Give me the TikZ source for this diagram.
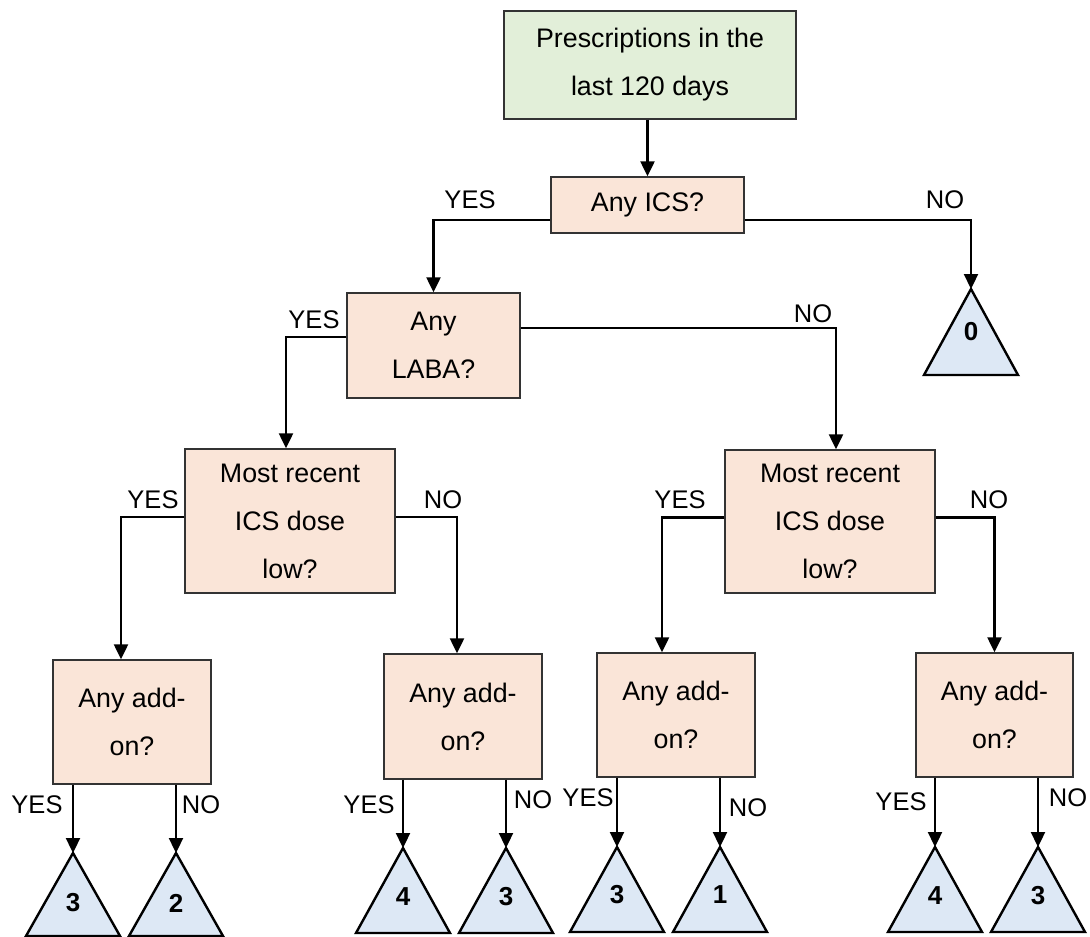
\documentclass[tikz,border=0pt]{standalone}
\usepackage{fontspec}
\setmainfont{Liberation Sans}
\usetikzlibrary{arrows.meta}

\definecolor{startfill}{HTML}{E2EFD9}
\definecolor{askfill}{HTML}{FAE5D8}
\definecolor{leaffill}{HTML}{DDE8F5}
\definecolor{edgegray}{HTML}{333333}

\tikzset{
  txt/.style={font=\fontsize{26.8}{48}\selectfont},
  box/.style={txt, draw=edgegray, line width=1.4pt, align=center, inner sep=0pt},
  startbox/.style={box, fill=startfill},
  askbox/.style={box, fill=askfill},
  lbl/.style={font=\fontsize{25.5}{30}\selectfont, inner sep=0pt},
  conn/.style={line width=2.3pt, -{Triangle[length=15pt,width=14pt]}},
  leafshape/.style={draw=black, line width=2.4pt, line join=miter, fill=leaffill},
  leafnum/.style={font=\fontsize{26}{30}\selectfont\bfseries, inner sep=0pt},
}

% leaf triangle: name, apex x, apex y, height, number, number offset below apex
\newcommand\leaf[6]{%
  \coordinate (#1) at (#2,#3);
  \draw[leafshape] (#1) -- ++(47,#4) -- ++(-94,0) -- cycle;
  \node[leafnum] (#1n) at (#2,#3+#6) {#5};
}

\begin{document}
\begin{tikzpicture}[x=1pt,y=-1pt]
\useasboundingbox (0,0) rectangle (1090,937);

% decision boxes
\node[startbox, minimum width=292pt, minimum height=108pt] (top) at (650,65)
  {Prescriptions in the\\last 120 days};
\node[askbox, minimum width=193pt, minimum height=56pt] (ics) at (647.5,205) {Any ICS?};
\node[askbox, minimum width=173pt, minimum height=105pt] (laba) at (433.5,345.5) {Any\\LABA?};
\node[askbox, minimum width=210pt, minimum height=144pt] (mrl) at (290,521) {Most recent\\ICS dose\\low?};
\node[askbox, minimum width=210pt, minimum height=143pt] (mrr) at (830,521.5) {Most recent\\ICS dose\\low?};
\node[askbox, minimum width=158pt, minimum height=124pt] (a1) at (132,722) {Any add-\\on?};
\node[askbox, minimum width=158pt, minimum height=125pt] (a2) at (463,716.5) {Any add-\\on?};
\node[askbox, minimum width=158pt, minimum height=124pt] (a3) at (676,715) {Any add-\\on?};
\node[askbox, minimum width=157pt, minimum height=124pt] (a4) at (994.5,715) {Any add-\\on?};

% outcome leaves
\leaf{t0}{971}{289}{86}{0}{43}
\leaf{t1}{73}{853}{83}{3}{50}
\leaf{t2}{176}{853}{83}{2}{50}
\leaf{t3}{403}{848}{85}{4}{49}
\leaf{t4}{506}{848}{85}{3}{49}
\leaf{t5}{617}{847}{85}{3}{48}
\leaf{t6}{720}{847}{85}{1}{48}
\leaf{t7}{935}{847}{85}{4}{49}
\leaf{t8}{1038}{847}{85}{3}{49}

% connectors
\draw[conn] (ics.north |- top.south) -- (ics.north);
\draw[conn] ([yshift=-15pt]ics.west) -| (laba.north);
\draw[conn] ([yshift=-15pt]ics.east) -| (t0);
\draw[conn] ([yshift=8.5pt]laba.west) -| ([xshift=-4pt]mrl.north);
\draw[conn] ([yshift=17.5pt]laba.east) -| ([xshift=6pt]mrr.north);
\draw[conn] ([yshift=4pt]mrl.west) -| ([xshift=-11pt]a1.north);
\draw[conn] ([yshift=4pt]mrl.east) -| ([xshift=-6pt]a2.north);
\draw[conn] ([yshift=4pt]mrr.west) -| ([xshift=-14pt]a3.north);
\draw[conn] ([yshift=4pt]mrr.east) -| (a4.north);
\draw[conn] (t1 |- a1.south) -- (t1);
\draw[conn] (t2 |- a1.south) -- (t2);
\draw[conn] (t3 |- a2.south) -- (t3);
\draw[conn] (t4 |- a2.south) -- (t4);
\draw[conn] (t5 |- a3.south) -- (t5);
\draw[conn] (t6 |- a3.south) -- (t6);
\draw[conn] (t7 |- a4.south) -- (t7);
\draw[conn] (t8 |- a4.south) -- (t8);

% branch labels
\node[lbl] (y0) at (470,200) {YES};
\node[lbl] (n0) at (945,200) {NO};
\node[lbl] (y1) at (314,320) {YES};
\node[lbl] (n1) at (813,314) {NO};
\node[lbl] (y2) at (153,500) {YES};
\node[lbl] (n2) at (443,500) {NO};
\node[lbl] (y3) at (680,500) {YES};
\node[lbl] (n3) at (989,500) {NO};
\node[lbl] (y4) at (37,805) {YES};
\node[lbl] (n4) at (201,805) {NO};
\node[lbl] (y5) at (369,805) {YES};
\node[lbl] (n5) at (533,800) {NO};
\node[lbl] (y6) at (588,798) {YES};
\node[lbl] (n6) at (748,808) {NO};
\node[lbl] (y7) at (901,802) {YES};
\node[lbl] (n7) at (1068,798) {NO};
\end{tikzpicture}
\end{document}
